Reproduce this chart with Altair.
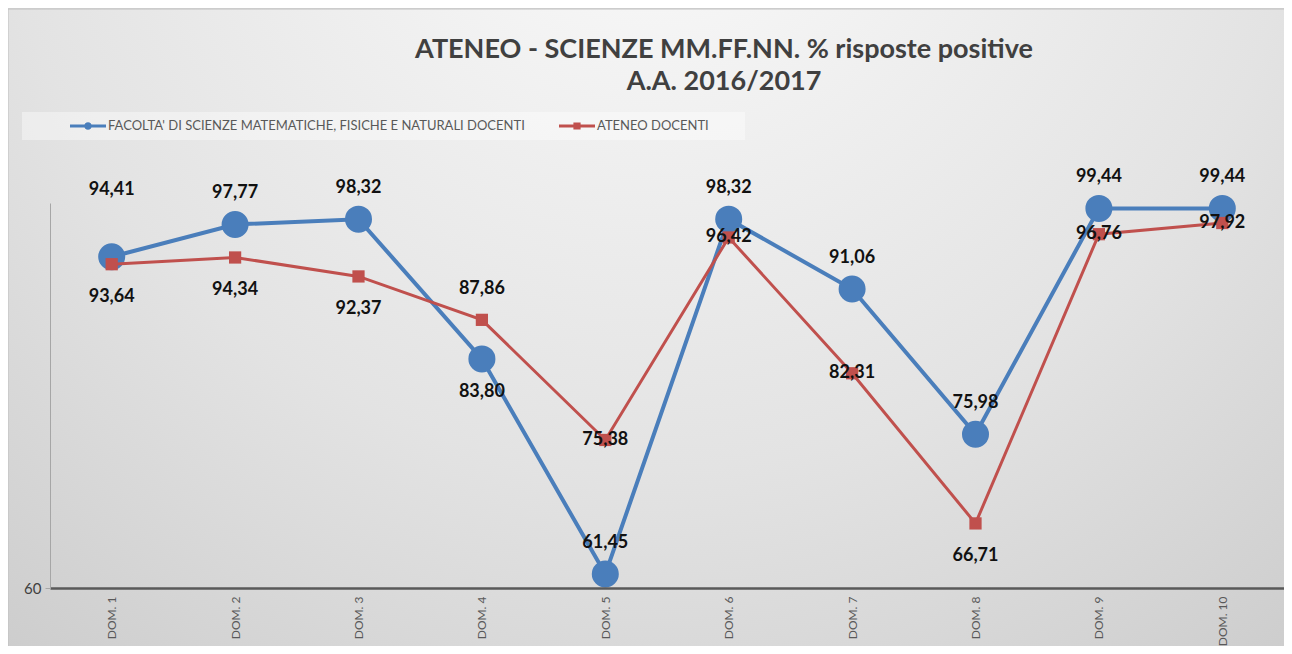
import altair as alt
import pandas as pd

categories = ["DOM. 1", "DOM. 2", "DOM. 3", "DOM. 4", "DOM. 5",
              "DOM. 6", "DOM. 7", "DOM. 8", "DOM. 9", "DOM. 10"]
series_names = ["FACOLTA' DI SCIENZE MATEMATICHE, FISICHE E NATURALI DOCENTI",
                "ATENEO DOCENTI"]
facolta_values = [94.41, 97.77, 98.32, 83.80, 61.45, 98.32, 91.06, 75.98, 99.44, 99.44]
ateneo_values = [93.64, 94.34, 92.37, 87.86, 75.38, 96.42, 82.31, 66.71, 96.76, 97.92]
# label placement category for each point (Excel-like placement)
facolta_label_pos = ["high", "above", "above", "below", "above",
                     "above", "above", "above", "above", "above"]
ateneo_label_pos = ["below", "below", "below", "above", "center",
                    "center", "center", "below", "center", "center"]
title_lines = ["ATENEO - SCIENZE MM.FF.NN. % risposte positive", "A.A. 2016/2017"]
series_colors = ["#4a7ebb", "#c0504d"]

rows = []
for s, vals, poss in [(series_names[0], facolta_values, facolta_label_pos),
                      (series_names[1], ateneo_values, ateneo_label_pos)]:
    for c, v, p in zip(categories, vals, poss):
        rows.append({"series": s, "cat": c, "value": v, "pos": p,
                     "label": f"{v:.2f}".replace(".", ",")})
df = pd.DataFrame(rows)
one = pd.DataFrame({"k": [0]})

W, H = 1234, 385
FONT = "Lato"

color_scale = alt.Scale(domain=series_names, range=series_colors)

base = alt.Chart(df).encode(
    x=alt.X("cat:N", sort=categories,
            scale=alt.Scale(type="point", padding=0.5),
            axis=alt.Axis(title=None, labelAngle=-90, labelFont=FONT, labelFontSize=12,
                          labelColor="#595959", labelPadding=8, ticks=False,
                          domainColor="#595959", domainWidth=2.5, zindex=1)),
    y=alt.Y("value:Q", scale=alt.Scale(domain=[60, 100], nice=False, zero=False),
            axis=alt.Axis(title=None, values=[60], grid=False, labelFont=FONT,
                          labelFontSize=15, labelColor="#404040", tickSize=5,
                          tickColor="#a6a6a6", domainColor="#a6a6a6", labelPadding=4,
                          zindex=1)),
)

bg = alt.Chart(one).mark_rect(
    fill={"gradient": "radial", "x1": 0.5, "y1": 0.1, "r1": 0, "x2": 0.5, "y2": 0.1, "r2": 0.85,
          "stops": [{"offset": 0, "color": "#ffffff"},
                    {"offset": 0.15, "color": "#f6f6f6"},
                    {"offset": 0.6, "color": "#e3e3e3"},
                    {"offset": 1, "color": "#cbcbcb"}]},
    stroke="#bfbfbf", strokeWidth=1,
).encode(x=alt.value(-42), x2=alt.value(W + 8), y=alt.value(-194), y2=alt.value(H + 60))

legend_box = alt.Chart(one).mark_rect(fill="#ffffff", opacity=0.4).encode(
    x=alt.value(-28), x2=alt.value(695), y=alt.value(-91), y2=alt.value(-63))

title = alt.Chart(one).mark_text(
    text="\n".join(title_lines), lineBreak="\n", lineHeight=32, font=FONT, fontSize=27,
    fontWeight="bold", color="#404040", align="center", baseline="alphabetic",
).encode(x=alt.value(674), y=alt.value(-145))

blue = base.transform_filter(alt.datum.series == series_names[0])
red = base.transform_filter(alt.datum.series == series_names[1])

path_circle = "M-1,-0.09H1V0.09H-1Z M-0.21,0A0.21,0.21,0,1,1,0.21,0A0.21,0.21,0,1,1,-0.21,0Z"
path_square = "M-1,-0.09H1V0.09H-1Z M-0.2,-0.2H0.2V0.2H-0.2Z"
leg = alt.Legend(title=None, orient="none", legendX=20, legendY=-95, direction="horizontal",
                 columns=2, symbolSize=1296, labelFont=FONT, labelFontSize=13,
                 labelColor="#595959", columnPadding=34, labelOffset=2,
                 symbolStrokeWidth=0, symbolOpacity=1, padding=0, labelLimit=800, zindex=1)

color_enc = alt.Color("series:N", scale=color_scale, legend=leg)
shape_enc = alt.Shape("series:N", scale=alt.Scale(domain=series_names,
                                                  range=[path_circle, path_square]),
                      legend=leg)

blue_line = blue.mark_line(strokeWidth=4, color=series_colors[0])
blue_pts = blue.mark_circle(size=730, opacity=1, color=series_colors[0])
red_line = red.mark_line(strokeWidth=3, color=series_colors[1])
red_pts = red.mark_square(size=150, opacity=1, color=series_colors[1])

legend_layer = base.mark_point(filled=True, opacity=0).encode(color=color_enc, shape=shape_enc)

offsets = {"high": -67, "above": -31, "below": 33, "center": 0}
labels = [
    base.transform_filter(alt.datum.pos == p).mark_text(
        dy=d, font=FONT, fontSize=18, fontWeight="bold", color="#111111",
        align="center", baseline="middle").encode(text="label:N")
    for p, d in offsets.items()
]

chart = alt.layer(bg, legend_box, title, blue_line, blue_pts, red_line, red_pts,
                  *labels, legend_layer).properties(
    width=W, height=H,
    padding={"left": 42, "top": 195, "right": 0, "bottom": 58},
    autosize=alt.AutoSizeParams(type="none"),
    background="#d9d9d9",
).configure_view(stroke=None)

chart.save("out.html", embed_options={"renderer": "svg", "actions": False})
